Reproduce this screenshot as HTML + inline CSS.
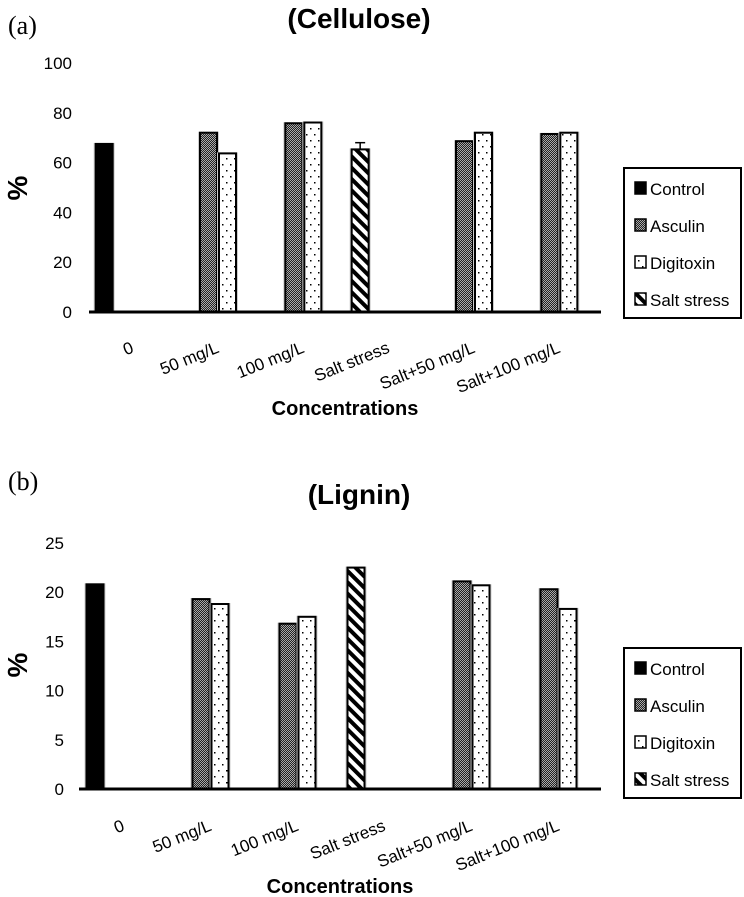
<!DOCTYPE html>
<html><head><meta charset="utf-8"><style>
html,body{margin:0;padding:0;background:#fff;}
svg{display:block;font-family:"Liberation Sans",sans-serif;}
</style></head><body>
<svg id="root" width="744" height="897" viewBox="0 0 744 897" xmlns="http://www.w3.org/2000/svg">
<defs>
<pattern id="pAsc" width="2" height="2" patternUnits="userSpaceOnUse"><rect width="2" height="2" fill="#222"/><rect width="1" height="1" fill="#aaa"/><rect x="1" y="1" width="1" height="1" fill="#aaa"/></pattern>
<pattern id="pDig" width="8" height="12" patternUnits="userSpaceOnUse"><rect width="8" height="12" fill="#fff"/><rect x="2" y="2" width="1.5" height="1.5" fill="#000"/><rect x="6" y="8" width="1.5" height="1.5" fill="#000"/></pattern>
<pattern id="pSalt" width="8" height="8" patternUnits="userSpaceOnUse" patternTransform="rotate(-45)"><rect width="8" height="8" fill="#fff"/><rect width="4" height="8" fill="#000"/></pattern>
</defs>
<g id="chartA"></g>
<g id="chartB"></g>
</svg>
<script>
const categories = ["0","50 mg/L","100 mg/L","Salt stress","Salt+50 mg/L","Salt+100 mg/L"];
const seriesNames = ["Control","Asculin","Digitoxin","Salt stress"];
// Cellulose (a) values per category (null = absent)
const celControl = [67.5,null,null,null,null,null];
const celAsculin = [null,72,75.8,null,68.6,71.5];
const celDigitoxin = [null,63.7,76.1,null,72,72];
const celSalt = [null,null,null,65.3,null,null];
const celSaltErr = [0,0,0,2.7,0,0];
const celTicks = [0,20,40,60,80,100];
// Lignin (b)
const ligControl = [20.8,null,null,null,null,null];
const ligAsculin = [null,19.3,16.8,null,21.1,20.3];
const ligDigitoxin = [null,18.8,17.5,null,20.7,18.3];
const ligSalt = [null,null,null,22.5,null,null];
const ligTicks = [0,5,10,15,20,25];

const NS="http://www.w3.org/2000/svg";
function mk(tag,attrs,parent){const e=document.createElementNS(NS,tag);for(const k in attrs)e.setAttribute(k,attrs[k]);parent.appendChild(e);return e;}

function drawChart(g,cfg){
  const {x0,x1,yBase,yTop,max,ticks,tickX,series,errs,title,titleY,tag,tagY,pctY,legendY,catY,concY,concX}=cfg;
  const yS=v=>yBase-(v/max)*(yBase-yTop);
  const cw=(x1-x0)/categories.length;
  const bw=17;
  const fills=["#000","url(#pAsc)","url(#pDig)","url(#pSalt)"];
  const slot=[0,1,2,0];
  let t=mk('text',{x:359,y:titleY,'text-anchor':'middle','font-size':28,'font-weight':'bold'},g);t.textContent=title;
  
  
  t=mk('text',{x:8,y:tagY,'font-size':26,'font-family':'Liberation Serif, serif'},g);t.textContent=tag;
  
  
  t=mk('text',{x:0,y:0,'font-size':28,'font-weight':'bold','text-anchor':'middle',transform:`translate(27,${pctY}) rotate(-90)`},g);t.textContent='%';
  
  
  ticks.forEach(v=>{const tt=mk('text',{x:tickX,y:yS(v)+6,'text-anchor':'end','font-size':17},g);tt.textContent=v;
    
    });
  series.forEach((arr,si)=>{
    arr.forEach((v,ci)=>{
      if(v==null)return;
      const bx=x0+cw*ci+cw/2-36+slot[si]*19;
      const y=yS(v);
      mk('rect',{x:bx-2,y:y-1,width:bw+4,height:yBase-y+1,fill:'#ccc'},g);
      const r=mk('rect',{x:bx,y:y,width:bw,height:yBase-y,fill:fills[si],stroke:'#000','stroke-width':2},g);
      
      
      const e=errs&&errs[si]?errs[si][ci]:0;
      if(e>0){const ey=yS(v+e);mk('line',{x1:bx+bw/2,x2:bx+bw/2,y1:y,y2:ey,stroke:'#000','stroke-width':1.5},g);
        mk('line',{x1:bx+bw/2-5,x2:bx+bw/2+5,y1:ey,y2:ey,stroke:'#000','stroke-width':1.5},g);}
    });
  });
  const ax=mk('line',{x1:x0,x2:x1,y1:yBase,y2:yBase,stroke:'#000','stroke-width':3},g);
  
  
  categories.forEach((c,ci)=>{const cx=x0+cw*ci+cw/2;
    const tt=mk('text',{x:0,y:0,'text-anchor':'end','font-size':17,transform:`translate(${cx+3},${catY}) rotate(-22)`},g);tt.textContent=c;
    
    });
  t=mk('text',{x:concX,y:concY,'text-anchor':'middle','font-size':20,'font-weight':'bold'},g);t.textContent='Concentrations';
  
  
  const lg=mk('g',{},g);
  
  
  mk('rect',{x:624,y:legendY,width:117,height:150,fill:'#fff',stroke:'#000','stroke-width':2},lg);
  seriesNames.forEach((n,i)=>{const ey=legendY+21+i*37;
    mk('rect',{x:635,y:ey-7,width:11,height:12,fill:fills[i],stroke:'#000','stroke-width':1.5},lg);
    const tt=mk('text',{x:650,y:ey+6,'font-size':17},lg);tt.textContent=n;
    
    });
}
drawChart(document.getElementById('chartA'),{x0:89,x1:601,yBase:312,yTop:63,max:100,ticks:celTicks,tickX:72,
  series:[celControl,celAsculin,celDigitoxin,celSalt],errs:[null,null,null,celSaltErr],
  title:'(Cellulose)',titleY:28,tag:'(a)',tagY:34,pctY:188,legendY:168,catY:352,concY:415,concX:345});
drawChart(document.getElementById('chartB'),{x0:79,x1:601,yBase:789,yTop:543,max:25,ticks:ligTicks,tickX:64,
  series:[ligControl,ligAsculin,ligDigitoxin,ligSalt],errs:null,
  title:'(Lignin)',titleY:504,tag:'(b)',tagY:490,pctY:665,legendY:648,catY:830,concY:893,concX:340});
</script>
</body></html>
